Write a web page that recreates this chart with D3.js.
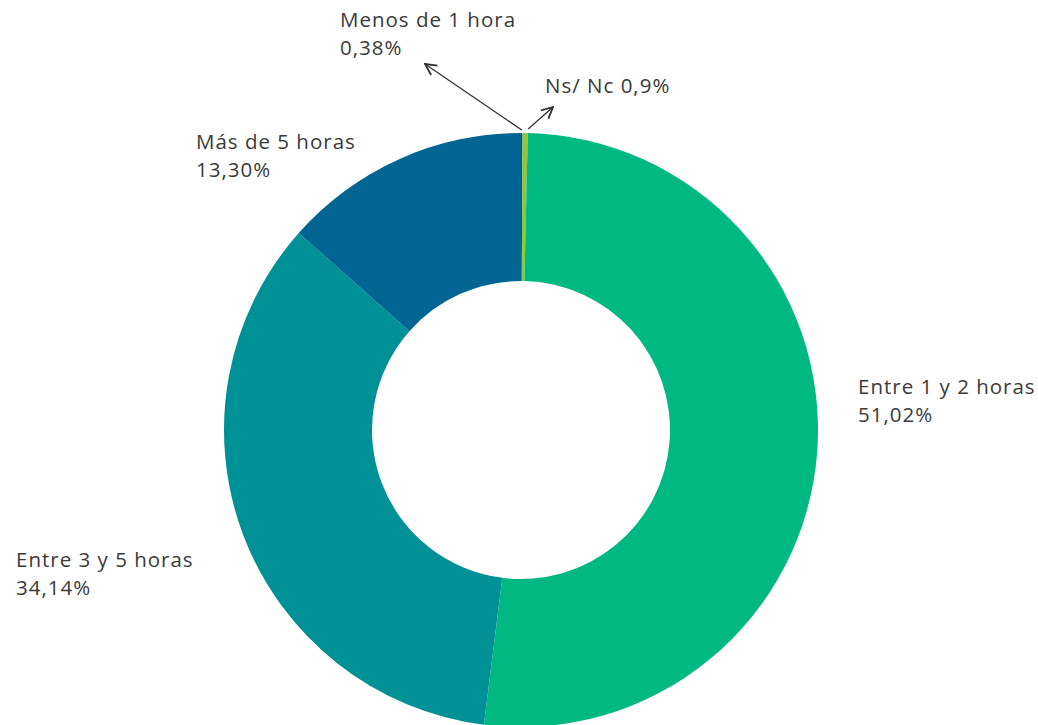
<!DOCTYPE html>
<html><head><meta charset="utf-8">
<script src="https://cdn.jsdelivr.net/npm/d3@7"></script>
<style>
html,body{margin:0;padding:0;background:#fff;}
svg{display:block;}
text{font-family:"Open Sans","Lato",sans-serif;fill:#3a3a3a;font-size:20.5px;letter-spacing:1px;}
</style></head><body>
<svg id="chart" width="1038" height="725"></svg>
<script>
// Data (order clockwise from 12 o'clock)
const categories = ["Menos de 1 hora", "Ns/ Nc", "Entre 1 y 2 horas", "Entre 3 y 5 horas", "Más de 5 horas"];
// slice sizes as drawn in the picture
const shares = [0.08, 0.28, 51.02, 34.14, 13.30];
// percentage labels as printed
const percentLabels = ["0,38%", "0,9%", "51,02%", "34,14%", "13,30%"];
const colors = ["#1f4e6b", "#8dc63f", "#00b882", "#009196", "#006593"];

const svg = d3.select("#chart");
const cx = 521, cy = 430, rOuter = 297, rInner = 149;

svg.append("defs").append("marker")
  .attr("id","arrow").attr("viewBox","0 0 10 10").attr("refX",9).attr("refY",5)
  .attr("markerWidth",14).attr("markerHeight",14).attr("markerUnits","userSpaceOnUse")
  .attr("orient","auto")
  .append("path").attr("d","M1,1 L9,5 L1,9").attr("fill","none").attr("stroke","#333").attr("stroke-width",1.3);

const pie = d3.pie().sort(null).value(d => d).startAngle(0).endAngle(2*Math.PI);
const arc = d3.arc().innerRadius(rInner).outerRadius(rOuter);
const g = svg.append("g").attr("transform", `translate(${cx},${cy})`);
const arcs = pie(shares);
g.selectAll("path").data(arcs).enter().append("path")
  .attr("d", arc).attr("fill", (d,i) => colors[i]);

// label positions
const labelPos = [
  {x:340, y:27, two:true},
  {x:545, y:93, two:false},
  {x:858, y:394, two:true},
  {x:16, y:567, two:true},
  {x:196, y:149, two:true}
];
labelPos.forEach((p,i) => {
  if (p.two) {
    const t = svg.append("text").attr("x", p.x).attr("y", p.y);
    t.append("tspan").attr("x", p.x).text(categories[i]);
    t.append("tspan").attr("x", p.x).attr("dy", 28).text(percentLabels[i]);
  } else {
    svg.append("text").attr("x", p.x).attr("y", p.y).text(categories[i] + " " + percentLabels[i]);
  }
});

// leader arrows for the small slices
const outerPt = (d, r) => {
  const a = (d.startAngle + d.endAngle)/2;
  return [cx + r*Math.sin(a), cy - r*Math.cos(a)];
};
const p0 = outerPt(arcs[0], rOuter + 3);
const p1 = outerPt(arcs[1], rOuter + 4);
svg.append("line").attr("x1", p0[0]).attr("y1", p0[1]).attr("x2", 425).attr("y2", 64)
  .attr("stroke","#333").attr("stroke-width",1.3).attr("marker-end","url(#arrow)");
svg.append("line").attr("x1", p1[0]+3).attr("y1", p1[1]).attr("x2", 553).attr("y2", 107)
  .attr("stroke","#333").attr("stroke-width",1.3).attr("marker-end","url(#arrow)");
</script>
</body></html>
